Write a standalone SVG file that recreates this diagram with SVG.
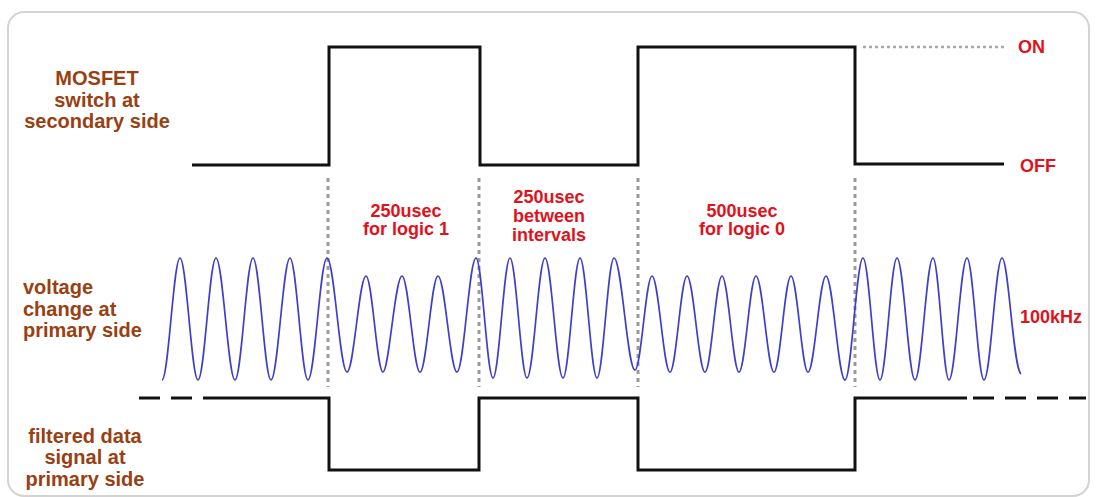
<svg xmlns="http://www.w3.org/2000/svg" width="1096" height="497" viewBox="0 0 1096 497">
<style>
.lbl{font-family:"Liberation Sans",Arial,sans-serif;font-weight:bold;font-size:20px;fill:#9a3f12}
.red{font-family:"Liberation Sans",Arial,sans-serif;font-weight:bold;font-size:18px;fill:#e0121b}
.sig{fill:none;stroke:#111;stroke-width:3;stroke-linejoin:miter}
.dash{fill:none;stroke:#111;stroke-width:3;stroke-dasharray:21 11}
.sep{fill:none;stroke:#9a9a9a;stroke-width:3;stroke-dasharray:4 4}
.wave{fill:none;stroke:#3f3fcc;stroke-width:1.7}
</style>
<rect x="0" y="0" width="1096" height="497" fill="#ffffff"/>
<rect id="frame" x="8" y="12" width="1081" height="484" rx="16" fill="#ffffff" stroke="#d3d3d3" stroke-width="2"/>

<g id="label-mosfet" class="lbl" text-anchor="middle">
<text x="97" y="85">MOSFET</text>
<text x="97" y="107">switch at</text>
<text x="97" y="128">secondary side</text>
</g>
<g id="label-voltage" class="lbl">
<text x="23" y="294">voltage</text>
<text x="23" y="316">change at</text>
<text x="23" y="337">primary side</text>
</g>
<g id="label-filtered" class="lbl" text-anchor="middle">
<text x="85" y="443">filtered data</text>
<text x="85" y="464">signal at</text>
<text x="85" y="486">primary side</text>
</g>

<g id="label-on" class="red"><text x="1018" y="53">ON</text></g>
<g id="label-off" class="red"><text x="1020" y="172">OFF</text></g>
<g id="label-100khz" class="red"><text x="1020" y="323">100kHz</text></g>
<g id="label-logic1" class="red" text-anchor="middle">
<text x="406" y="217">250usec</text>
<text x="406" y="235">for logic 1</text>
</g>
<g id="label-between" class="red" text-anchor="middle">
<text x="549" y="203">250usec</text>
<text x="549" y="222">between</text>
<text x="549" y="241">intervals</text>
</g>
<g id="label-logic0" class="red" text-anchor="middle">
<text x="742" y="217">500usec</text>
<text x="742" y="235">for logic 0</text>
</g>

<g id="connectors">
<g id="separators" class="sep">
<line x1="328" y1="178" x2="328" y2="387"/>
<line x1="479" y1="178" x2="479" y2="387"/>
<line x1="638" y1="178" x2="638" y2="387"/>
<line x1="855" y1="178" x2="855" y2="387"/>
</g>
<line id="on-level" x1="863" y1="47" x2="1004" y2="47" stroke="#a8a8a8" stroke-width="2.5" stroke-dasharray="3 3"/>
<path id="mosfet-signal" class="sig" d="M192,165 H329 V47 H480 V165 H638 V47 H855 V164 H1004"/>
<path id="wave" class="wave" d="M162,380 C168.5,380 173.5,258 180,258 C186.5,258 191.5,380 198,380 C204.5,380 209.5,258 216,258 C222.8,258 228.2,380 235,380 C241.5,380 246.5,258 253,258 C259.5,258 264.5,380 271,380 C277.8,380 283.2,258 290,258 C296.5,258 301.5,380 308,380 C314.8,380 320.2,258 327,258 C334.2,258 339.8,372 347,372 C353.8,372 359.2,276 366,276 C372.1,276 376.9,372 383,372 C388.8,372 395.2,276 402,276 C408.5,276 413.5,372 420,372 C426.5,372 431.5,276 438,276 C444.8,276 450.2,372 457,372 C463.8,372 469.2,258 476,258 C482.1,258 486.9,378 493,378 C499.1,378 503.9,258 510,258 C516.1,258 520.9,378 527,378 C533.5,378 538.5,258 545,258 C551.5,258 556.5,378 563,378 C569.1,378 573.9,258 580,258 C586.1,258 590.9,378 597,378 C603.1,378 607.9,258 614,258 C621.6,258 627.4,370 635,370 C641.1,370 645.9,276 652,276 C658.5,276 663.5,372 670,372 C676.1,372 680.9,276 687,276 C693.5,276 698.5,372 705,372 C711.1,372 715.9,276 722,276 C728.1,276 732.9,372 739,372 C745.1,372 749.9,276 756,276 C762.5,276 767.5,372 774,372 C780.1,372 784.9,276 791,276 C797.1,276 801.9,372 808,372 C814.5,372 819.5,276 826,276 C832.8,276 838.2,380 845,380 C851.5,380 856.5,258 863,258 C869.1,258 873.9,380 880,380 C886.1,380 890.9,258 897,258 C903.5,258 908.5,380 915,380 C921.5,380 926.5,258 933,258 C938.8,258 943.2,380 949,380 C955.5,380 960.5,258 967,258 C973.1,258 977.9,380 984,380 C990.5,380 995.5,258 1002,258 C1008.5,258 1013,368 1021,374"/>
<path id="filtered-signal" class="sig" d="M203,398 H329 V470 H479 V398 H638 V470 H855 V398 H967"/>
<path id="filtered-left-dash" class="dash" d="M139,398 H203" stroke-dasharray="21 11"/>
<path id="filtered-right-dash" class="dash" d="M973,398 H1086" stroke-dasharray="21 11"/>
</g>
</svg>
